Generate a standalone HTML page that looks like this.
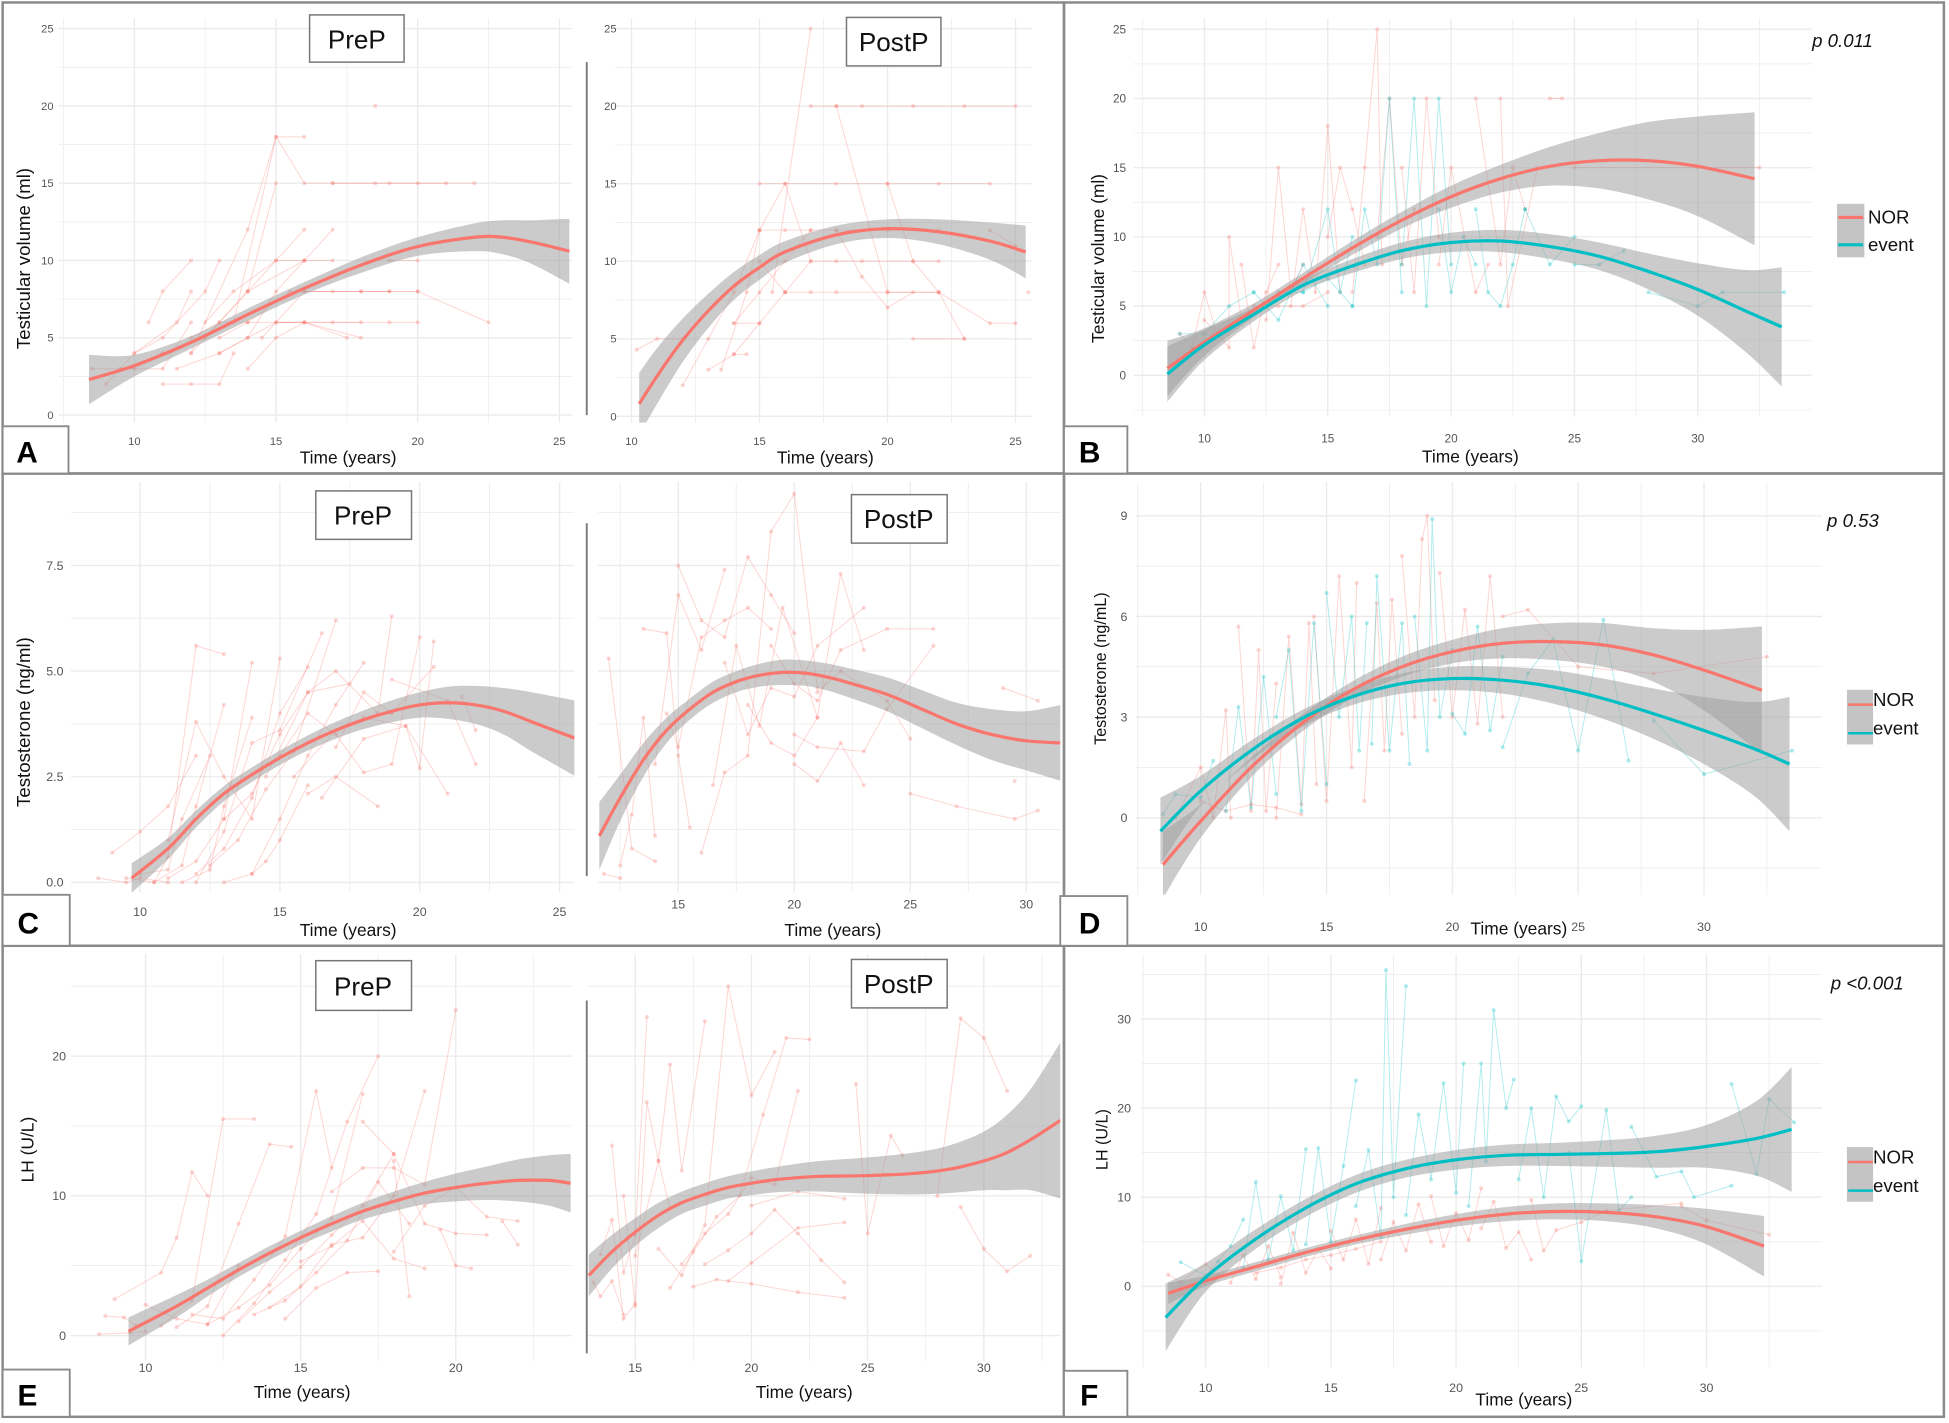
<!DOCTYPE html>
<html><head><meta charset="utf-8">
<style>
html,body{margin:0;padding:0;background:#fff;}
svg{display:block;}
text{font-family:"Liberation Sans",sans-serif;}
</style></head>
<body>
<svg id="fig" width="1949" height="1423" viewBox="0 0 1568 1145" xmlns="http://www.w3.org/2000/svg">
<rect x="0" y="0" width="1568" height="1145" fill="#fff"/>
<g id="panels"></g>
<g id="frames">
  <rect x="2" y="2" width="854" height="379" fill="none" stroke="#8a8a8a" stroke-width="2"/>
  <rect x="856" y="2" width="708" height="379" fill="none" stroke="#8a8a8a" stroke-width="2"/>
  <rect x="2" y="381" width="854" height="380" fill="none" stroke="#8a8a8a" stroke-width="2"/>
  <rect x="856" y="381" width="708" height="380" fill="none" stroke="#8a8a8a" stroke-width="2"/>
  <rect x="2" y="761" width="854" height="379" fill="none" stroke="#8a8a8a" stroke-width="2"/>
  <rect x="856" y="761" width="708" height="379" fill="none" stroke="#8a8a8a" stroke-width="2"/>
</g>
<g font-weight="bold" font-size="24" fill="#000">
  <rect x="2" y="343" width="53" height="38" fill="#fff" stroke="#8a8a8a" stroke-width="1.5"/>
  <text x="13" y="372">A</text>
  <rect x="856" y="343" width="51" height="38" fill="#fff" stroke="#8a8a8a" stroke-width="1.5"/>
  <text x="868" y="372">B</text>
  <rect x="2" y="720" width="54" height="41" fill="#fff" stroke="#8a8a8a" stroke-width="1.5"/>
  <text x="14" y="751">C</text>
  <rect x="853" y="721" width="54" height="40" fill="#fff" stroke="#8a8a8a" stroke-width="1.5"/>
  <text x="868" y="751">D</text>
  <rect x="2" y="1102" width="54" height="38" fill="#fff" stroke="#8a8a8a" stroke-width="1.5"/>
  <text x="14" y="1131">E</text>
  <rect x="856" y="1103" width="51" height="37" fill="#fff" stroke="#8a8a8a" stroke-width="1.5"/>
  <text x="869" y="1131">F</text>
</g>
<g font-size="21" fill="#111">
  <rect x="249" y="12" width="76" height="38" fill="#fff" stroke="#777" stroke-width="1.2"/>
  <text x="287" y="39" text-anchor="middle">PreP</text>
  <rect x="681" y="14" width="76" height="39" fill="#fff" stroke="#777" stroke-width="1.2"/>
  <text x="719" y="41" text-anchor="middle">PostP</text>
  <rect x="254" y="395" width="77" height="39" fill="#fff" stroke="#777" stroke-width="1.2"/>
  <text x="292" y="422" text-anchor="middle">PreP</text>
  <rect x="685" y="398" width="77" height="39" fill="#fff" stroke="#777" stroke-width="1.2"/>
  <text x="723" y="425" text-anchor="middle">PostP</text>
  <rect x="254" y="773" width="77" height="40" fill="#fff" stroke="#777" stroke-width="1.2"/>
  <text x="292" y="801" text-anchor="middle">PreP</text>
  <rect x="685" y="772" width="77" height="39" fill="#fff" stroke="#777" stroke-width="1.2"/>
  <text x="723" y="799" text-anchor="middle">PostP</text>
</g>
<g stroke="#777" stroke-width="1.5">
  <line x1="472" y1="50" x2="472" y2="334"/>
  <line x1="472" y1="421" x2="472" y2="705"/>
  <line x1="472" y1="805" x2="472" y2="1089"/>
</g>
<g fill="#111" font-size="15">
  <text transform="translate(24,208) rotate(-90)" text-anchor="middle">Testicular volume (ml)</text>
  <text transform="translate(888,208) rotate(-90)" text-anchor="middle" font-size="14">Testicular volume (ml)</text>
  <text transform="translate(24,581) rotate(-90)" text-anchor="middle">Testosterone (ng/ml)</text>
  <text transform="translate(890,538) rotate(-90)" text-anchor="middle" font-size="13">Testosterone  (ng/mL)</text>
  <text transform="translate(27,925) rotate(-90)" text-anchor="middle" font-size="14">LH (U/L)</text>
  <text transform="translate(891,917) rotate(-90)" text-anchor="middle" font-size="13">LH  (U/L)</text>
  <text x="280" y="373" text-anchor="middle" font-size="14">Time (years)</text>
  <text x="664" y="373" text-anchor="middle" font-size="14">Time (years)</text>
  <text x="1183" y="372" text-anchor="middle" font-size="14">Time (years)</text>
  <text x="280" y="753" text-anchor="middle" font-size="14">Time (years)</text>
  <text x="670" y="753" text-anchor="middle" font-size="14">Time (years)</text>
  <text x="1222" y="752" text-anchor="middle" font-size="14">Time (years)</text>
  <text x="243" y="1125" text-anchor="middle" font-size="14">Time (years)</text>
  <text x="647" y="1125" text-anchor="middle" font-size="14">Time (years)</text>
  <text x="1226" y="1131" text-anchor="middle" font-size="14">Time (years)</text>
</g>
<g font-size="15" font-style="italic" fill="#111">
  <text x="1458" y="38">p 0.011</text>
  <text x="1470" y="424">p 0.53</text>
  <text x="1473" y="796">p &lt;0.001</text>
</g>
<g font-size="15" fill="#111">
  <g>
    <rect x="1478" y="164" width="22" height="43" fill="#c4c4c4"/>
    <line x1="1479" y1="175" x2="1499" y2="175" stroke="#F8766D" stroke-width="2.5"/>
    <line x1="1479" y1="197" x2="1499" y2="197" stroke="#00BFC4" stroke-width="2.5"/>
    <text x="1503" y="180">NOR</text>
    <text x="1503" y="202">event</text>
  </g>
  <g>
    <rect x="1486" y="555" width="21" height="44" fill="#c4c4c4"/>
    <line x1="1487" y1="567" x2="1507" y2="567" stroke="#F8766D" stroke-width="2"/>
    <line x1="1487" y1="590" x2="1507" y2="590" stroke="#00BFC4" stroke-width="2"/>
    <text x="1507" y="568">NOR</text>
    <text x="1507" y="591">event</text>
  </g>
  <g>
    <rect x="1486" y="923" width="21" height="44" fill="#c4c4c4"/>
    <line x1="1487" y1="935" x2="1507" y2="935" stroke="#F8766D" stroke-width="2"/>
    <line x1="1487" y1="958" x2="1507" y2="958" stroke="#00BFC4" stroke-width="2"/>
    <text x="1507" y="936">NOR</text>
    <text x="1507" y="959">event</text>
  </g>
</g>
</svg>
<script>
// ---------- DATA ----------
const aPreTraj = [[8.5,3,10,3,11,4],[9,2,10,4,11.5,6,12,8],[9.5,3,11,3,12,6],[10,4,11,5,12.5,8,13,10],[10.5,6,11,8,12,10],[11,2,12,2,13,2,13.5,4],[11,4,12.5,5,14,8,15,15],[11.5,3,13,4,14,5,15,8,16,10],[12,4,13,6,14,6,16,6,18,6],[12,5,13,6,14,8,16,10,17,12],[12.5,6,13.5,8,15,10,16,12],[13,5,14,6,15.5,8,17,8,19,8],[13,4,14,5,15,6,16,6,18,5],[13.5,6,15,18,16,15,17,15,19,15,21,15],[14,8,15,10,16,10,17,10],[12,4,14,12,15,18,16,18],[14.5,5,16,8,18,8,20,8],[15,6,17,6,19,6,20,6],[16,8,18,8,19,8,20,8,22.5,6],[14,3,15,5,16,6,17.5,5],[18.5,20],[19,10,20,10],[17,15,18.5,15,20,15,22,15]];
const aPreFitX = [8.4,10,12,14,16,18,20,22,23,24,25.35];
const aPreFitY = [2.3,3.2,4.7,6.5,8.2,9.7,10.9,11.5,11.5,11.2,10.6];
const aPreFitSe = [1.6,0.7,0.4,0.4,0.4,0.5,0.6,0.9,1.1,1.4,2.1];
const aPostTraj = [[10.2,4.3,11,5,12,5],[12,2,13,5,14,8,15,12],[13,3,14,4,15,6,16,8],[14,4,14.5,4],[14,6,15,8,16,10,17,12],[15,12,16,12,17,12,18,12,20,12,22,12],[15,15,16,15,18,15,20,15,22,15,24,15],[16,8,17,10,18,10,19,10,21,10,22,10],[14,6,15,6],[15,10,16,8,17,8,18,8,20,8,22,8],[15.5,8,17,25],[17,20,18,20,19,20,21,20,23,20,25,20],[18,20,20,8,22,8,24,6,25,6],[13.5,3,14.5,8,15,12,16,15,17,10],[20,15,21,10,22,8,23,5],[21,5,23,5],[18,12,19,9,20,7,21,8],[24,12,25,11],[25.5,8]];
const aPostFitX = [10.3,11,12,13,14,15,16,18,20,22,24,25.4];
const aPostFitY = [0.8,2.6,4.9,6.8,8.4,9.6,10.6,11.7,12.1,11.9,11.3,10.6];
const aPostFitSe = [2,1.8,1.4,1.1,0.9,0.8,0.7,0.6,0.6,0.8,1.2,1.7];
const bNorTraj = [[9,3,9.5,2,10,6,10.5,3],[10,4,11,2,11,10,11.5,4],[11.5,8,12,2,12.5,6,13,8],[12.5,4,13,15,13.5,6,14,8],[13.5,5,14,12,14.5,6,15,18,15.5,6],[15,10,15.5,15,16,12,16.5,8],[16,6,16.5,15,17,25,17.2,8],[17,10,17.5,20,18,8,18.5,12],[18,15,18.5,6,19,20,19.5,10],[19.5,8,20,15,21,6,21.5,8],[21,20,22,8,22.5,15,23,12],[22,20,22.3,5,23.5,15],[24,20,24.5,20],[25,15,30,15,32.5,15],[12,5,13,5,14,5,15,6]];
const bEventTraj = [[9,3,10,3,11,5,12,6],[12,6,13,4,14,8,15,5],[14,6,15,12,15.5,6,16,10],[16,5,16.5,12,17,8,17.5,20,18,6],[18,8,18.5,20,19,5,19.5,20,20,8],[19.5,12,20,6,20.5,10,21,8],[21,12,21.5,6,22,5,22.5,8,23,12],[23,12,24,8,25,10],[25,8,26,8,27,9],[28,6,30,5,31,6,33.5,6],[13,6,14,6,15,7,16,5]];
const bNorFitX = [8.5,10,12,14,16,18,20,22,24,26,28,30,32.3];
const bNorFitY = [0.5,2.4,4.7,7,9.2,11.2,12.9,14.2,15.1,15.5,15.5,15.1,14.2];
const bNorFitSe = [2,1.0,0.5,0.4,0.5,0.6,0.8,1.0,1.4,2.0,2.8,3.6,4.8];
const bEventFitX = [8.5,10,12,14,16,18,20,22,24,26,28,30,32,33.4];
const bEventFitY = [0.1,2.2,4.4,6.5,7.9,9.0,9.6,9.7,9.3,8.6,7.5,6.2,4.6,3.5];
const bEventFitSe = [2,1.1,0.5,0.4,0.5,0.6,0.7,0.8,0.9,1.0,1.3,1.9,3.0,4.3];
const cPreTraj = [[8.5,0.1,9.5,0,10,0.1,11,0],[9,0.7,10,1.2,11,1.8,12,3],[9.5,0.1,10.5,0,11,0.6,12,5.6,13,5.4],[10,0.2,11,0.3,11.5,1.5,12.5,3],[10.5,0,11.5,0.4,12,1.8,13,4.2],[11,0.1,12,0.5,13,1.5,14,5.2],[11,1,12,3.8,13,2.5,14,1.5,15,5.3],[11.5,0,12.5,0.3,13,1.8,14,3.9],[12,0.2,13,0.8,14,2,15,4,16,5.1],[12,0,13,1.2,14,3.3,15,3.6,16.5,5.9],[12.5,0.4,13.5,1,14.5,2.2,15.5,3.1,17,6.2],[13,0,14,0.2,14.5,0.5,15,1,16,2.3],[13,1.5,14,2.1,15,3.5,16,4.5,17.5,4.7],[14,0.2,15,1.5,16,3,17,4.2,18,5.2],[14.5,2.5,16,4.5,17,5,18.5,4,19,6.3],[15,3,16,4,17,3.5,18,2.6,19,2.8,20,5.8],[15.5,2.5,17,3.6,18,3.9,19.5,3.7,20,2.7,20.5,5.7],[16,2.1,17,2.5,18.5,1.8],[17,3.2,18,4.5,19,4.0,20.5,5.1],[16.5,2,18,3.4,19.5,3.7,21,2.1],[19,4.8,21,4.3,22,2.8],[21.5,4.4,22,3.6]];
const cPreFitX = [9.7,11,12,13,14,15,16,17,18,19,20,21,22,23,24,25.6];
const cPreFitY = [0.1,0.8,1.5,2.1,2.55,2.95,3.3,3.6,3.85,4.05,4.2,4.25,4.2,4.05,3.8,3.4];
const cPreFitSe = [0.35,0.25,0.2,0.18,0.17,0.17,0.18,0.2,0.22,0.26,0.3,0.38,0.45,0.55,0.7,0.9];
const cPostTraj = [[11.8,0.2,12.5,0.1],[12,5.3,13,0.8,14,0.5],[12.5,0.4,13,1.6,13.5,3.9,14,1.1],[13.5,6.0,14.5,5.9,15,3,15.5,1.3],[14,2.8,15,6.8,16,5.5,17,7.4],[14.5,4,15,3.2,16,5.8,17,6.2,18,6.5,19,6.0],[15,7.5,16,6.2,17,5.8,18,7.7,19,6.8,20,5.9],[16,0.7,17,2.6,18,3.0,19,8.3,20,9.2,21,4.6],[16.5,2.3,17.5,5.6,18.5,3.7,19.5,6.5,21,3.9],[17,5.2,18,3.5,19,4.6,20,4.4,21,5.6,23,6.5],[18,4.2,19,3.3,20,3.0,21,3.9,22,7.3,23,5.5],[19,5.6,20,4.7,21,4.3,22,5.5,24,6.0,26,6.0],[20,3.5,21,3.2,23,3.1,24,4.1,26,5.6],[20,2.8,21,2.4,22,3.3,23,2.3],[21,4.5,22,5.0,24,4.3,25,3.4],[25,2.1,27,1.8,29.5,1.5,30.5,1.7],[29,4.6,30.5,4.3],[29.5,2.4]];
const cPostFitX = [11.6,12.5,13.5,14.5,15.5,16.5,17.5,18.5,19.5,20.5,21.5,22.5,24,25.5,27,28.5,30,31.5];
const cPostFitY = [1.1,2.0,2.9,3.6,4.1,4.5,4.75,4.9,4.97,4.95,4.85,4.7,4.45,4.1,3.75,3.5,3.35,3.3];
const cPostFitSe = [0.8,0.55,0.4,0.3,0.25,0.25,0.25,0.27,0.3,0.3,0.32,0.35,0.4,0.45,0.5,0.6,0.7,0.9];
const dNorTraj = [[9,0,10,1.5,10.5,0,11,3.2,11.2,0],[11.5,5.7,12,0.2,12.3,5.0,12.6,0.2,13,4.0],[13,0,13.5,5.4,14,0.4,14.3,5.8,14.6,1],[14.5,6.0,15,0.5,15.5,7.2,16,1.5,16.2,7.0],[16.5,0.5,17,6.4,17.3,2,17.6,6.5,18,2.5],[18,7.8,18.5,3,18.8,8.3,19,9.0,19.3,3.5],[19.5,7.3,20,3,20.5,6.2,21,2.8,21.5,7.2,22,3],[22,6.0,23,6.2,25,4.5,28,4.3,32.5,4.8],[10,0.5,11,0.2,12,0.4,13,0.3,14,0.1]];
const dEventTraj = [[8.5,0.1,9,0.7,10,0.6,10.5,1.7],[11,0.2,11.5,3.3,12,0.3,12.5,4.2,13,0.7],[13,3.0,13.5,5.0,14,0.2,14.5,5.8,15,1.0],[15,6.7,15.5,3.0,16,6.0,16.3,2,16.6,5.8],[16.8,2.2,17,7.2,17.5,2,18,5.8,18.3,1.6],[18.5,6.0,19,2,19.2,8.9,19.5,3,20,5.0],[20,3.1,20.5,2.5,21,5.7,21.5,2.6,22,4.8],[22,2.1,23,4.3,24,5.3,25,2,26,5.9,27,1.7],[28,2.9,30,1.3,33.5,2.0]];
const dNorFitX = [8.5,10,12,14,16,18,20,22,24,26,28,30,32.3];
const dNorFitY = [-1.4,-0.1,1.5,2.8,3.8,4.5,4.95,5.2,5.25,5.15,4.85,4.4,3.8];
const dNorFitSe = [1.0,0.5,0.3,0.25,0.25,0.3,0.35,0.45,0.55,0.65,0.8,1.2,1.9];
const dEventFitX = [8.4,10,12,14,16,18,20,22,24,26,28,30,32,33.4];
const dEventFitY = [-0.4,0.8,2.0,2.95,3.6,4.0,4.15,4.1,3.9,3.55,3.1,2.6,2.05,1.6];
const dEventFitSe = [1.0,0.45,0.3,0.25,0.25,0.3,0.35,0.4,0.5,0.6,0.75,1.0,1.4,2.0];
const ePreTraj = [[8.5,0.1,9.5,0.2,10,0.3],[8.7,1.4,9.3,1.3,9.7,0.7],[9,2.6,10.5,4.5,11,7,11.5,11.7,12,10],[10,2.2,11,1.2,12,0.8,13,5],[10.5,0.7,11.5,2.5,12.5,15.5,13.5,15.5],[11,0.6,12,2.1,13,8.0,14,13.7,14.7,13.5],[11.5,1.5,12.5,1.2,13.5,4.0,14.5,7.1,15.5,17.5,16,12],[12,0.8,13,2,14,3.6,15,6.2,16,8.4,17,17.3],[12.5,0,13.5,2.3,14.5,5.4,15.5,8.7,16.5,15.3,17.5,20],[13,1.0,14,3.1,15,4.9,16,7.2,17,9.3,18,13.0],[13.5,1.5,14.5,2.5,15.5,4.5,16.5,6.8,17.5,11,18.5,8],[14,2.0,15,3.5,16,6.5,17,7,18,10,19,17.5],[14.5,1.2,15.5,3.4,16.5,4.5,17.5,4.6],[15,5.3,16,6.4,17,8.2,18,5.5,19,4.8],[16,10.3,17,12,18,12,19,10.8,20,23.3],[17,15.3,18,13,19,8,20,7.3,21,7.2],[18,6,19,9.3,20,10.6,21,8.5,22,8.2],[19.5,7.6,20,5,20.5,4.8],[18,12.5,18.5,2.8],[21.5,8.2,22,6.5]];
const ePreFitX = [9.45,11,12,13,14,15,16,17,18,19,20,21,22,23,23.7];
const ePreFitY = [0.3,2.1,3.4,4.7,5.9,7.0,8.0,8.9,9.6,10.2,10.6,10.9,11.1,11.1,10.9];
const ePreFitSe = [1.0,0.8,0.6,0.5,0.5,0.5,0.55,0.6,0.7,0.8,1.0,1.2,1.5,1.8,2.1];
const ePostTraj = [[13.2,3.8,13.5,2.8,14,3.9,14.5,1.5],[13.5,5.8,14,8.3,14.5,1.2,15,2.3],[14,13.6,14.5,4.5,15,7.2,15.5,22.8],[14.5,10,15,2.1,15.5,16.7,16,12.5,16.5,9.1],[15,5.7,16,12.5,16.5,19.4,17,11.8,18,22.5],[16,6.2,17,4.3,18,7.9,19,25,20,17.2,21,20.3],[16.5,3.4,17.5,6.0,18.5,8.5,19.5,10,20.5,15.8,21.5,21.3,22.5,21.2],[17,5.1,18,7.3,19,8.7,20,11.3,21,10.8,22,17.5],[17.5,3.5,18.5,4.0,20,3.7,22,3.1,24,2.7],[18,5.1,19,6.1,20,7.3,21,9.0,22,7.3,23,5.4,24,3.8],[19,3.9,20,5.2,22,7.7,24,8.1],[20,9.3,22,10.3,24,9.8],[24.5,18,25,7.3,26,14.3,26.5,12.9],[28,10,29,22.7,30,21.3,31,17.5],[29,9.2,30,6.2,31,4.6,32,5.7]];
const ePostFitX = [13.0,14,15,16,17,18,19,20,21,22,23,25,27,28.5,30,31,32,33.3];
const ePostFitY = [4.3,6.0,7.4,8.6,9.5,10.1,10.6,10.9,11.15,11.3,11.4,11.45,11.6,11.9,12.5,13.1,14,15.4];
const ePostFitSe = [1.5,1.2,1.0,0.9,0.8,0.8,0.8,0.85,0.9,1.0,1.1,1.3,1.5,1.7,2.1,2.7,3.6,5.6];
const fNorTraj = [[8.5,1.3,9,0.5,10,2.5,10.5,1.2],[11,0.4,11.5,3.5,12,0.8,12.5,4.5,13,1.0],[13,0.3,13.5,6,14,1.5,14.5,4.2,15,2.0],[15,6.2,15.5,3,16,7.5,16.5,2.5,17,8.8],[17,3,17.5,7.2,18,4.0,18.5,9.2,19,5.0],[19,10.1,19.5,4.5,20,8.2,20.5,5.2,21,11],[21,6.5,21.5,9.5,22,4.3,22.5,6.1,23,3.0],[23,9.7,23.5,4,24,6.3,25,7.2,26,8.5,29,9.3],[29,9,30,7.4,32.5,5.8],[12,1.5,13,2.1,14,3.0,15,3.5,16,4.2,17,5.0]];
const fEventTraj = [[9,2.7,10,1.2,10.5,2.8,11,4.5,11.5,7.5],[11.5,2,12,11.7,12.5,3,13,10.1,13.5,4,14,15.4],[14,4.7,14.5,15.5,15,5,15.5,13.5,16,23.1],[16,9,16.5,15.3,17,5.5,17.2,35.5,17.5,10,18,33.7],[18,8,18.5,19.3,19,12,19.5,22.8,20,10.5,20.3,25],[20.5,9,21,25,21.2,14,21.5,31,22,20,22.3,23.2],[22.5,12,23,20,23.5,10,24,21.3,24.5,18.5,25,20.2],[24.5,15,25,2.8,26,19.8,26.5,8.5,27,10],[27,17.9,28,12.3,29,12.9,29.5,10,31,11.3],[31,22.7,32,12.6,32.5,21,33.5,18.4]];
const fNorFitX = [8.5,10,12,14,16,18,20,22,24,26,28,30,32.3];
const fNorFitY = [-0.8,0.6,2.2,3.8,5.2,6.4,7.4,8.1,8.4,8.3,7.8,6.7,4.5];
const fNorFitSe = [1.2,0.6,0.5,0.5,0.5,0.6,0.7,0.8,0.9,1.0,1.3,2.0,3.4];
const fEventFitX = [8.4,10,12,14,16,18,20,22,24,26,28,30,32,33.4];
const fEventFitY = [-3.5,1.0,5.3,8.8,11.5,13.2,14.2,14.7,14.8,14.9,15.1,15.7,16.6,17.6];
const fEventFitSe = [3.8,1.6,1.1,1.0,1.0,1.0,1.1,1.2,1.3,1.5,1.8,2.4,4.2,7];
const aXTicks = [10,15,20,25];
const aYTicks = [0,5,10,15,20,25];
const bXTicks = [10,15,20,25,30];
const cPreXTicks = [10,15,20,25];
const cPostXTicks = [15,20,25,30];
const cYTicks = [0,2.5,5,7.5];
const cYLabels = ["0.0","2.5","5.0","7.5"];
const dYTicks = [0,3,6,9];
const ePreXTicks = [10,15,20];
const eYTicks = [0,10,20];
const fYTicks = [0,10,20,30];

// ---------- RENDER ----------
const NS = "http://www.w3.org/2000/svg";
const root = document.getElementById('panels');
const PINK = "#F8766D", CYAN = "#00BFC4";
let clipId = 0;
function mk(tag, attrs, parent){
  const e = document.createElementNS(NS, tag);
  for (const k in attrs) e.setAttribute(k, attrs[k]);
  parent.appendChild(e);
  return e;
}
function smooth(pts){
  let d = "M" + pts[0][0].toFixed(1) + "," + pts[0][1].toFixed(1);
  for (let i = 0; i < pts.length - 1; i++){
    const p0 = pts[Math.max(0,i-1)], p1 = pts[i], p2 = pts[i+1], p3 = pts[Math.min(pts.length-1,i+2)];
    const c1x = p1[0] + (p2[0]-p0[0])/6, c1y = p1[1] + (p2[1]-p0[1])/6;
    const c2x = p2[0] - (p3[0]-p1[0])/6, c2y = p2[1] - (p3[1]-p1[1])/6;
    d += " C" + c1x.toFixed(1)+","+c1y.toFixed(1)+" "+c2x.toFixed(1)+","+c2y.toFixed(1)+" "+p2[0].toFixed(1)+","+p2[1].toFixed(1);
  }
  return d;
}
function panel(cfg){
  const g = mk('g', {}, root);
  
  
  const sx = v => cfg.x0px + (v - cfg.x0v) * cfg.kx;
  const sy = v => cfg.y0px - (v - cfg.y0v) * cfg.ky;
  const grid = mk('g', {stroke:"#ebebeb"}, g);
  
  
  const xs = cfg.xTicks, ys = cfg.yTicks;
  const xstep = xs[1]-xs[0], ystep = ys[1]-ys[0];
  for (let v = xs[0] - 2*xstep; v <= xs[xs.length-1] + 2*xstep; v += xstep/2){
    const px = sx(v);
    if (px < cfg.L || px > cfg.R) continue;
    const major = Math.abs((v - xs[0]) / xstep - Math.round((v - xs[0]) / xstep)) < 1e-6;
    mk('line', {x1:px, x2:px, y1:cfg.T, y2:cfg.B, 'stroke-width': major ? 1.1 : 0.6}, grid);
  }
  for (let v = ys[0] - 2*ystep; v <= ys[ys.length-1] + 2*ystep; v += ystep/2){
    const py = sy(v);
    if (py < cfg.T || py > cfg.B) continue;
    const major = Math.abs((v - ys[0]) / ystep - Math.round((v - ys[0]) / ystep)) < 1e-6;
    mk('line', {x1:cfg.L, x2:cfg.R, y1:py, y2:py, 'stroke-width': major ? 1.1 : 0.6}, grid);
  }
  const tl = mk('g', {fill:"#555", 'font-size': cfg.fs}, g);
  
  
  xs.forEach(v => {
    const t = mk('text', {x: sx(v), y: cfg.xLabY, 'text-anchor':'middle'}, tl);
    
    
    t.textContent = v;
  });
  if (cfg.yLabX !== null){
    ys.forEach((v,i) => {
      const t = mk('text', {x: cfg.yLabX, y: sy(v) + cfg.fs*0.35, 'text-anchor':'end'}, tl);
      
      
      t.textContent = cfg.yLabels ? cfg.yLabels[i] : v;
    });
  }
  clipId++;
  const cp = mk('clipPath', {id:'cp'+clipId}, g);
  mk('rect', {x:cfg.L, y:cfg.T, width:cfg.R-cfg.L, height:cfg.B-cfg.T}, cp);
  const plot = mk('g', {'clip-path':'url(#cp'+clipId+')'}, g);
  cfg.series.forEach(s => {
    const tg = mk('g', {stroke:s.color, fill:s.color}, plot);
    
    
    s.traj.forEach(tr => {
      let d = "";
      for (let i = 0; i < tr.length; i += 2){
        d += (i ? "L" : "M") + sx(tr[i]).toFixed(1) + "," + sy(tr[i+1]).toFixed(1);
      }
      const p = mk('path', {d:d, fill:"none", 'stroke-width':0.8, 'stroke-opacity':0.3}, tg);
      
      
      for (let i = 0; i < tr.length; i += 2){
        const c = mk('circle', {cx:sx(tr[i]), cy:sy(tr[i+1]), r:1.6, stroke:"none", 'fill-opacity':0.3}, tg);
        
        
      }
    });
  });
  cfg.series.forEach(s => {
    const up = s.fx.map((x,i) => [sx(x), sy(s.fy[i] + s.se[i])]);
    const lo = s.fx.map((x,i) => [sx(x), sy(s.fy[i] - s.se[i])]).reverse();
    const d = smooth(up) + " L" + lo[0][0].toFixed(1) + "," + lo[0][1].toFixed(1) + smooth(lo).replace(/^M[^C]*/, "") + " Z";
    const r = mk('path', {d:d, fill:"#a0a0a0", 'fill-opacity':0.55, stroke:"none"}, plot);
    
    
  });
  cfg.series.forEach(s => {
    const pts = s.fx.map((x,i) => [sx(x), sy(s.fy[i])]);
    const l = mk('path', {d:smooth(pts), fill:"none", stroke:s.color, 'stroke-width':2.6}, plot);
    
    
  });
}

panel({name:'panel-a-prep', L:47, R:460, T:15, B:340, x0px:108, x0v:10, kx:22.8, y0px:334, y0v:0, ky:12.44,
  xTicks:aXTicks, yTicks:aYTicks, xLabY:358, yLabX:43, fs:9,
  series:[{label:'nor', color:PINK, traj:aPreTraj, fx:aPreFitX, fy:aPreFitY, se:aPreFitSe}]});
panel({name:'panel-a-postp', L:495, R:830, T:15, B:340, x0px:508, x0v:10, kx:20.6, y0px:335, y0v:0, ky:12.48,
  xTicks:aXTicks, yTicks:aYTicks, xLabY:358, yLabX:496, fs:9,
  series:[{label:'nor', color:PINK, traj:aPostTraj, fx:aPostFitX, fy:aPostFitY, se:aPostFitSe}]});
panel({name:'panel-b', L:912, R:1458, T:15, B:335, x0px:969, x0v:10, kx:19.85, y0px:302, y0v:0, ky:11.14,
  xTicks:bXTicks, yTicks:aYTicks, xLabY:356, yLabX:906, fs:9.5,
  series:[{label:'nor', color:PINK, traj:bNorTraj, fx:bNorFitX, fy:bNorFitY, se:bNorFitSe},
          {label:'event', color:CYAN, traj:bEventTraj, fx:bEventFitX, fy:bEventFitY, se:bEventFitSe}]});
panel({name:'panel-c-prep', L:57, R:462, T:388, B:718, x0px:112.6, x0v:10, kx:22.5, y0px:710, y0v:0, ky:34,
  xTicks:cPreXTicks, yTicks:cYTicks, yLabels:cYLabels, xLabY:737, yLabX:51, fs:10,
  series:[{label:'nor', color:PINK, traj:cPreTraj, fx:cPreFitX, fy:cPreFitY, se:cPreFitSe}]});
panel({name:'panel-c-postp', L:481, R:853, T:388, B:718, x0px:545.6, x0v:15, kx:18.67, y0px:710, y0v:0, ky:34,
  xTicks:cPostXTicks, yTicks:cYTicks, xLabY:731, yLabX:null, fs:10,
  series:[{label:'nor', color:PINK, traj:cPostTraj, fx:cPostFitX, fy:cPostFitY, se:cPostFitSe}]});
panel({name:'panel-d', L:914, R:1466, T:388, B:720, x0px:966, x0v:10, kx:20.25, y0px:658, y0v:0, ky:27,
  xTicks:bXTicks, yTicks:dYTicks, xLabY:749, yLabX:907, fs:10,
  series:[{label:'nor', color:PINK, traj:dNorTraj, fx:dNorFitX, fy:dNorFitY, se:dNorFitSe},
          {label:'event', color:CYAN, traj:dEventTraj, fx:dEventFitX, fy:dEventFitY, se:dEventFitSe}]});
panel({name:'panel-e-prep', L:57, R:460, T:768, B:1095, x0px:117, x0v:10, kx:24.96, y0px:1074.6, y0v:0, ky:11.24,
  xTicks:ePreXTicks, yTicks:eYTicks, xLabY:1104, yLabX:53, fs:10,
  series:[{label:'nor', color:PINK, traj:ePreTraj, fx:ePreFitX, fy:ePreFitY, se:ePreFitSe}]});
panel({name:'panel-e-postp', L:472, R:853, T:768, B:1095, x0px:511, x0v:15, kx:18.7, y0px:1074.6, y0v:0, ky:11.24,
  xTicks:cPostXTicks, yTicks:eYTicks, xLabY:1104, yLabX:null, fs:10,
  series:[{label:'nor', color:PINK, traj:ePostTraj, fx:ePostFitX, fy:ePostFitY, se:ePostFitSe}]});
panel({name:'panel-f', L:918, R:1466, T:768, B:1100, x0px:970, x0v:10, kx:20.15, y0px:1035, y0v:0, ky:7.17,
  xTicks:bXTicks, yTicks:fYTicks, xLabY:1120, yLabX:910, fs:10,
  series:[{label:'nor', color:PINK, traj:fNorTraj, fx:fNorFitX, fy:fNorFitY, se:fNorFitSe},
          {label:'event', color:CYAN, traj:fEventTraj, fx:fEventFitX, fy:fEventFitY, se:fEventFitSe}]});
const svg = document.getElementById('fig');
svg.insertBefore(root, svg.children[1]);
</script>
</body></html>
